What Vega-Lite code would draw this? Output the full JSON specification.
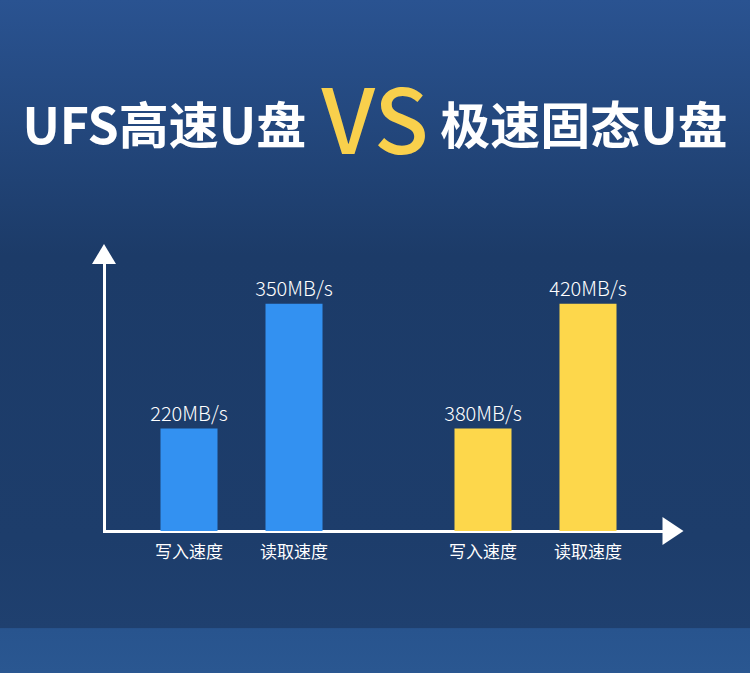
{
  "$schema": "https://vega.github.io/schema/vega-lite/v6.json",
  "autosize": {"type": "none"},
  "width": 750,
  "height": 673,
  "padding": 0,
  "background": "#1c3b68",
  "view": {
    "stroke": null,
    "fill": {
      "gradient": "linear", "x1": 0, "y1": 0, "x2": 0, "y2": 1,
      "stops": [
        {"offset": 0, "color": "#2a5391"},
        {"offset": 0.38, "color": "#1c3b68"},
        {"offset": 0.8, "color": "#1d3d6b"},
        {"offset": 0.933, "color": "#1f406f"},
        {"offset": 0.934, "color": "#28548e"},
        {"offset": 1, "color": "#2a5791"}
      ]
    }
  },
  "title": {
    "text": "UFS高速U盘\u3000\u3000\u00a0\u00a0\u00a0极速固态U盘",
    "subtitle": "VS\u200a",
    "anchor": "middle",
    "frame": "group",
    "dy": 198,
    "subtitlePadding": -71
  },
  "config": {
    "axis": {"grid": false, "domainColor": "white", "domainWidth": 3, "domainCap": "square", "labels": false, "ticks": false, "title": null, "zindex": 1},
    "text": {"font": "Noto Sans CJK SC", "color": "white"},
    "title": {
      "font": "Noto Sans CJK SC", "fontSize": 50, "fontWeight": "bold", "color": "white",
      "subtitleFont": "Noto Sans CJK SC", "subtitleFontSize": 90, "subtitleFontWeight": 500, "subtitleColor": "#f9d04c"
    }
  },
  "data": {
    "values": [
      {"product": "UFS高速U盘", "metric": "写入速度", "speed": "220MB/s", "bar": 37},
      {"product": "UFS高速U盘", "metric": "读取速度", "speed": "350MB/s", "bar": 82},
      {"product": "极速固态U盘", "metric": "写入速度", "speed": "380MB/s", "bar": 37},
      {"product": "极速固态U盘", "metric": "读取速度", "speed": "420MB/s", "bar": 82}
    ]
  },
  "layer": [
    {
      "encoding": {
        "x": {
          "field": "product",
          "type": "nominal",
          "scale": {"domain": ["UFS高速U盘", "极速固态U盘"], "range": [104, 673], "paddingInner": 0.0646, "paddingOuter": 0},
          "axis": {"offset": -142}
        },
        "xOffset": {
          "field": "metric",
          "type": "nominal",
          "scale": {"domain": ["写入速度", "读取速度"], "paddingInner": 0.457, "paddingOuter": 0.538}
        }
      },
      "layer": [
        {
          "mark": {"type": "bar"},
          "encoding": {
            "y": {
              "field": "bar",
              "type": "quantitative",
              "scale": {"domain": [0, 100], "range": [531, 254], "nice": false},
              "axis": {"offset": -104}
            },
            "color": {
              "field": "product",
              "type": "nominal",
              "scale": {"domain": ["UFS高速U盘", "极速固态U盘"], "range": ["#3391f1", "#fdd74b"]},
              "legend": null
            }
          }
        },
        {
          "mark": {"type": "text", "baseline": "alphabetic", "dy": -8, "fontSize": 20, "fontWeight": 300},
          "encoding": {
            "y": {"field": "bar", "type": "quantitative"},
            "text": {"field": "speed", "type": "nominal"}
          }
        },
        {
          "mark": {"type": "text", "baseline": "middle", "dy": 22, "fontSize": 17},
          "encoding": {
            "y": {"datum": 0},
            "text": {"field": "metric", "type": "nominal"}
          }
        }
      ]
    },
    {
      "data": {"values": [{"arrow": "y"}]},
      "mark": {"type": "point", "shape": "M0,-0.833L1,0.833L-1,0.833Z", "size": 576, "filled": true, "color": "white", "opacity": 1, "strokeWidth": 0},
      "encoding": {
        "x": {"datum": "UFS高速U盘", "bandPosition": 0},
        "y": {"datum": 100}
      }
    },
    {
      "data": {"values": [{"arrow": "x"}]},
      "mark": {"type": "point", "shape": "M0.75,0L-0.75,-1L-0.75,1Z", "size": 784, "filled": true, "color": "white", "opacity": 1, "strokeWidth": 0},
      "encoding": {
        "x": {"datum": "极速固态U盘", "bandPosition": 1},
        "y": {"datum": 0}
      }
    }
  ]
}
